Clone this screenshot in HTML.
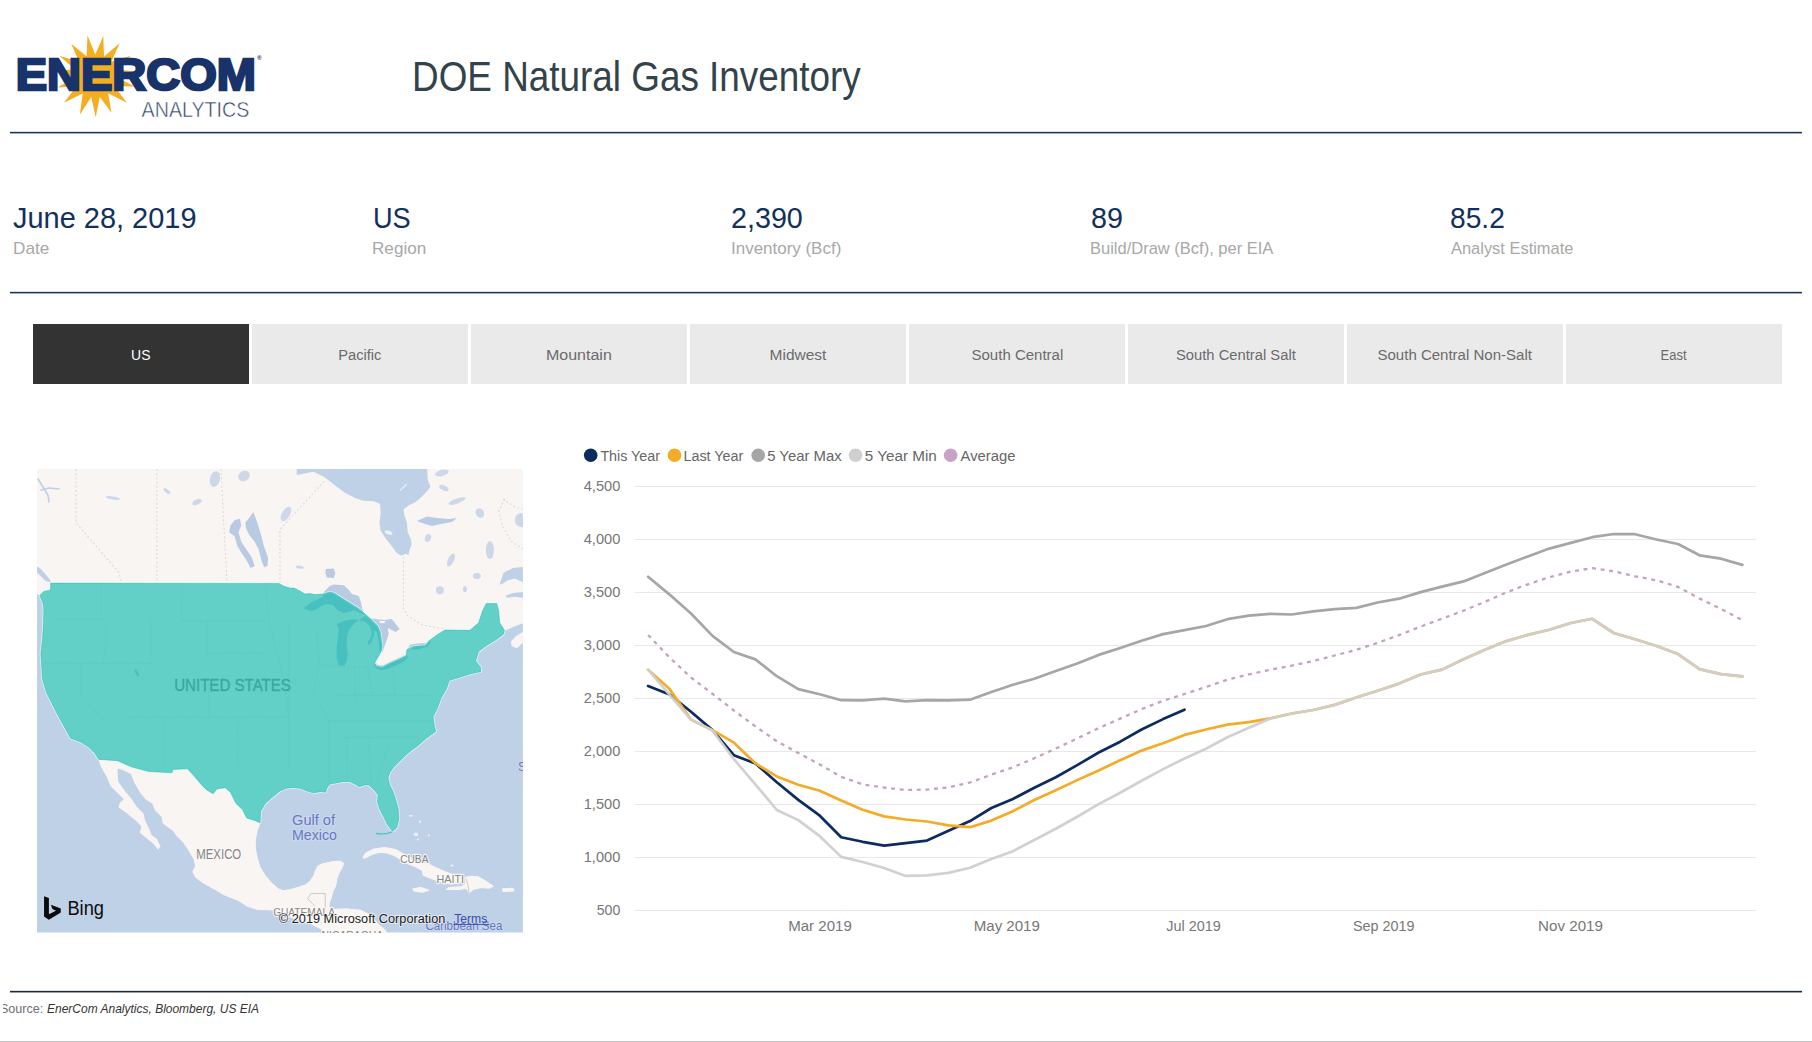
<!DOCTYPE html>
<html lang="en"><head><meta charset="utf-8"><title>DOE Natural Gas Inventory</title>
<style>
html,body{margin:0;padding:0;background:#fff;}
body{width:1812px;height:1042px;position:relative;overflow:hidden;font-family:"Liberation Sans",sans-serif;}
.abs{position:absolute;}
.hr{position:absolute;left:10px;width:1792px;height:2px;background:#1f3a68;}
#title{position:absolute;left:413px;top:52.3px;font-size:42.3px;line-height:50px;color:#33434b;white-space:nowrap;transform-origin:0 50%;}
.kv{position:absolute;top:200.1px;font-size:29px;line-height:36px;color:#12305c;white-space:nowrap;transform-origin:0 50%;}
.kl{position:absolute;top:237.7px;font-size:16.6px;line-height:22px;color:#a8a8a8;white-space:nowrap;transform-origin:0 50%;}
.tab{position:absolute;top:324px;width:216px;height:59.6px;background:#eaeaea;color:#6b6b6b;font-size:15.5px;line-height:61.6px;text-align:center;white-space:nowrap;}
.tab.sel{background:#333;color:#fff;}
#srcwrap{position:absolute;left:3.4px;top:995px;width:400px;height:30px;overflow:hidden;}
#src{position:absolute;left:-3.4px;top:4.6px;font-size:13px;line-height:18px;color:#707070;white-space:nowrap;}
#src .s1{position:absolute;left:0.4px;top:0;transform-origin:0 50%;transform:scaleX(0.965);}
#src .s2{position:absolute;left:47.4px;top:0;transform-origin:0 50%;transform:scaleX(0.922);}
#src i{color:#333;}
#bottom{position:absolute;left:0;top:1041px;width:1812px;height:1px;background:#c4c4c4;}
svg text{font-family:"Liberation Sans",sans-serif;}
</style></head><body>
<svg class="abs" style="left:0;top:0" width="300" height="130" viewBox="0 0 300 130">
<polygon fill="#f5ad22" points="87.5,35.6 95.3,54.5 103.3,36.0 104.0,56.4 119.7,43.2 111.3,61.8 130.7,55.7 115.6,69.4 136.5,71.5 116.6,77.6 135.0,86.4 114.3,85.9 126.9,102.7 108.1,93.2 111.5,112.8 99.8,97.0 95.7,117.6 91.3,97.1 79.8,114.7 82.7,93.5 64.0,102.7 76.4,86.3 57.8,87.4 73.8,77.8 55.5,71.0 74.8,69.2 59.2,55.7 79.1,61.8 71.2,43.7 86.6,56.3"/>
<text id="logo" x="15.7" y="90.2" font-size="44" font-weight="bold" fill="#17336a" stroke="#17336a" stroke-width="2.5" stroke-linejoin="miter" textLength="240.2" lengthAdjust="spacingAndGlyphs">ENERCOM</text>
<text x="257" y="60.0" font-size="6.2" font-weight="bold" fill="#17336a">®</text>
<text id="ana" x="141.6" y="116.6" font-size="22.6" fill="#33456b" textLength="107.8" lengthAdjust="spacingAndGlyphs" stroke="#fff" stroke-width="0.5">ANALYTICS</text>
</svg>
<div id="title" style="left:412.08px;transform:scaleX(0.8717)">DOE Natural Gas Inventory</div>
<div class="kv" id="kv0" style="left:13.41px;transform:scaleX(0.9981)">June 28, 2019</div><div class="kl" id="kl0" style="left:13.05px;transform:scaleX(1.0352)">Date</div>
<div class="kv" id="kv1" style="left:372.86px;transform:scaleX(0.9363)">US</div><div class="kl" id="kl1" style="left:372.05px;transform:scaleX(1.0313)">Region</div>
<div class="kv" id="kv2" style="left:731.47px;transform:scaleX(0.9893)">2,390</div><div class="kl" id="kl2" style="left:730.86px;transform:scaleX(1.0221)">Inventory (Bcf)</div>
<div class="kv" id="kv3" style="left:1091.17px;transform:scaleX(0.9907)">89</div><div class="kl" id="kl3" style="left:1090.30px;transform:scaleX(0.9940)">Build/Draw (Bcf), per EIA</div>
<div class="kv" id="kv4" style="left:1450.33px;transform:scaleX(0.9717)">85.2</div><div class="kl" id="kl4" style="left:1451.00px;transform:scaleX(0.9905)">Analyst Estimate</div>

<div class="tab sel" style="left:33px"><span style="display:inline-block;transform:scaleX(0.9000)">US</span></div>
<div class="tab" style="left:252px"><span style="display:inline-block;transform:scaleX(0.9455)">Pacific</span></div>
<div class="tab" style="left:471px"><span style="display:inline-block;transform:scaleX(1.0323)">Mountain</span></div>
<div class="tab" style="left:690px"><span style="display:inline-block;transform:scaleX(1.0000)">Midwest</span></div>
<div class="tab" style="left:909px"><span style="display:inline-block;transform:scaleX(0.9681)">South Central</span></div>
<div class="tab" style="left:1128px"><span style="display:inline-block;transform:scaleX(0.9520)">South Central Salt</span></div>
<div class="tab" style="left:1347px"><span style="display:inline-block;transform:scaleX(0.9686)">South Central Non-Salt</span></div>
<div class="tab" style="left:1566px"><span style="display:inline-block;transform:scaleX(0.8387)">East</span></div>

<svg class="abs" style="left:37px;top:469px" width="485.9" height="463.5" viewBox="0 0 486 463" preserveAspectRatio="none">
<rect x="0" y="0" width="486" height="463" fill="#bfd1e6"/>
<g fill="#f9f5f2" stroke="#f9f5f2" stroke-width="1" stroke-linejoin="round">
<polygon points="0.0,0.0 486.0,0.0 486.0,153.6 476.0,157.4 467.6,161.2 466.6,165.1 458.9,170.8 449.3,176.6 441.7,182.3 438.8,191.9 443.6,197.7 443.9,202.5 433.9,204.5 421.8,208.5 412.4,211.2 409.7,219.3 404.3,228.7 400.3,239.5 396.2,247.5 397.6,256.9 398.9,262.3 389.5,269.0 380.1,277.1 376.1,280.0 369.3,285.4 362.6,292.1 357.2,297.5 353.2,302.8 351.2,308.2 352.5,314.9 355.9,321.7 358.6,329.7 361.3,339.1 362.0,349.9 359.9,358.0 355.9,362.0 354.6,360.6 350.5,355.3 346.5,347.2 342.5,339.1 340.4,332.4 341.1,325.7 337.1,320.3 331.7,315.6 327.7,315.6 322.3,317.6 318.3,314.9 312.9,312.3 306.2,312.3 299.5,313.6 292.7,314.9 290.0,319.0 288.7,323.0 283.3,322.3 276.6,323.7 269.9,321.7 263.2,319.0 256.4,318.3 249.7,319.0 243.0,321.7 236.6,327.0 228.5,333.8 223.8,341.8 223.1,353.3 220.4,360.6 218.3,371.0 218.5,379.8 220.3,388.7 223.0,397.5 228.3,406.3 235.3,414.3 241.5,419.6 245.9,421.3 253.0,420.4 261.8,417.8 268.9,415.2 273.3,411.6 276.8,406.3 278.6,401.0 281.2,396.6 286.5,394.0 295.4,392.2 303.3,391.8 306.8,394.0 305.1,398.4 301.5,404.6 299.8,409.9 298.9,416.0 296.2,421.3 294.5,427.5 292.7,432.8 291.8,438.1 297.1,439.9 310.4,439.4 323.6,440.8 330.7,444.3 336.0,448.7 341.3,454.9 346.6,459.3 350.1,463.0 287.4,463.0 283.9,459.3 275.1,454.9 261.8,450.5 249.4,446.1 238.9,440.8 231.8,440.3 220.3,439.9 210.6,436.8 201.2,430.8 187.7,425.5 178.4,420.1 166.3,413.4 158.6,407.7 155.9,402.3 158.6,396.9 157.3,390.2 151.9,380.8 146.5,372.7 139.8,366.0 135.8,360.6 126.3,353.9 125.0,347.2 118.3,340.5 115.6,333.8 108.9,329.7 103.5,323.0 98.1,313.6 94.1,304.2 86.0,300.2 80.0,298.8 80.6,312.3 87.4,321.7 94.1,329.7 99.5,337.8 106.2,344.5 107.5,351.2 111.6,359.3 114.2,366.0 119.6,370.1 123.0,376.8 121.0,379.5 116.9,374.1 110.2,368.7 103.5,363.3 104.8,356.6 99.5,351.2 91.4,344.5 82.0,337.8 83.3,333.8 87.4,329.7 80.6,323.0 73.9,316.3 69.9,306.9 64.5,297.5 61.8,290.1 57.8,284.0 53.8,280.0 52.4,278.4 44.4,273.1 33.6,269.0 26.9,256.9 20.2,244.8 14.8,234.1 9.4,223.3 5.4,209.9 4.7,197.8 3.8,184.4 5.4,170.9 6.5,153.4 6.8,140.0 6.0,134.0 2.7,126.3 0.0,124.0"/>
<polygon points="326.3,387.5 329.0,383.5 337.1,379.5 347.8,378.1 358.6,380.1 366.7,384.8 377.4,391.6 390.9,394.2 398.9,398.3 408.3,402.3 417.7,405.8 425.5,407.6 426.5,411.5 420.0,414.0 411.4,414.3 404.0,412.2 398.7,410.6 392.0,408.3 386.1,405.6 385.5,401.0 377.4,396.9 370.7,394.2 364.0,390.2 357.2,386.2 350.5,383.5 342.5,382.8 335.7,384.8 330.4,387.5 327.0,388.9"/>
<polygon points="428.1,408.0 433.4,406.7 441.5,407.4 449.5,412.1 456.2,416.8 452.2,418.8 444.2,418.1 436.1,420.1 432.1,423.5 429.4,418.8 421.4,420.1 409.3,420.1 412.0,418.1 424.0,417.4 428.7,414.8"/>
<polygon points="375.8,419.4 383.8,418.1 391.9,420.8 385.2,422.8 377.1,421.5"/>
<polygon points="465.6,419.4 476.3,418.8 477.0,421.5 466.3,422.1"/>
<polygon points="474.3,172.7 480.0,167.0 486.0,163.2 486.0,172.7 480.0,178.5 475.3,176.6"/>
<ellipse cx="374.0" cy="346.5" rx="2.2" ry="0.9" stroke="none" opacity="0.8"/>
<ellipse cx="379.0" cy="365.0" rx="2.3" ry="1.8" stroke="none" opacity="0.8"/>
<ellipse cx="383.0" cy="352.0" rx="1.0" ry="1.5" stroke="none" opacity="0.8"/>
<ellipse cx="392.0" cy="366.0" rx="1.2" ry="1.0" stroke="none" opacity="0.8"/>
<ellipse cx="415.0" cy="396.0" rx="2.0" ry="1.0" stroke="none" opacity="0.8"/>
<ellipse cx="381.0" cy="370.0" rx="1.0" ry="1.0" stroke="none" opacity="0.8"/>
</g>
<g fill="#bfd1e6">
<polygon points="259.8,0.0 259.8,6.0 276.6,2.7 287.4,8.1 299.5,17.5 307.5,23.5 318.3,28.9 326.3,31.6 337.1,32.3 343.1,34.9 343.8,44.4 342.5,53.8 343.8,61.8 349.2,69.9 354.6,76.6 359.9,84.0 364.6,86.7 368.7,84.7 371.4,86.0 372.7,80.6 374.7,75.3 374.0,69.9 370.7,63.2 370.0,53.8 367.3,45.7 366.7,40.3 372.0,36.3 378.8,32.9 385.5,26.9 390.8,21.5 393.5,17.5 390.8,10.8 390.2,0.0"/>
<polygon points="462.8,115.2 466.6,103.6 476.2,98.8 486.0,97.9 486.0,113.2 478.1,109.4 470.5,111.3 464.7,115.2"/>
<polygon points="468.5,126.7 476.2,123.8 486.0,122.8 486.0,128.6 478.1,127.6 470.5,128.6"/>
<polygon points="0.0,97.5 4.0,100.0 13.4,111.0 13.4,113.6 8.0,111.5 0.0,103.5"/>
</g>
<g fill="#b9cbe3">
<polygon points="267.0,138.9 275.0,132.9 285.9,127.9 286.9,122.9 292.9,116.9 296.9,115.5 306.9,116.0 311.9,120.9 314.9,124.9 321.9,126.9 323.9,132.9 325.4,139.9 327.9,145.4 322.9,143.9 316.9,140.9 311.9,142.9 306.9,143.9 300.9,141.4 295.9,135.9 290.9,134.9 285.9,135.9 279.9,139.9 275.0,141.9 269.0,140.4"/>
<polygon points="288.9,100.0 296.9,99.5 298.4,104.0 296.9,109.0 289.9,108.5 288.4,104.0"/>
<polygon points="299.9,154.9 306.9,151.9 316.9,149.9 321.9,150.9 316.9,154.9 311.9,160.9 309.9,168.8 309.9,176.8 310.9,184.8 309.9,191.8 307.5,196.5 301.5,196.5 299.4,186.8 299.9,176.8 300.9,166.8 301.9,159.9"/>
<polygon points="321.9,150.9 328.8,146.9 332.8,148.9 338.8,149.9 346.8,150.9 354.8,149.9 358.8,154.9 362.8,159.9 358.8,162.9 354.8,160.9 350.8,158.9 351.8,164.9 349.8,170.8 347.3,177.8 345.8,182.8 342.8,183.8 342.3,176.8 341.3,169.8 339.8,162.9 337.8,160.9 336.8,166.9 334.8,172.8 331.8,175.8 330.8,172.8 333.8,168.8 334.8,162.9 332.8,156.9 328.8,152.9 324.9,151.9"/>
<polygon points="338.0,193.0 341.5,195.8 346.0,196.0 353.2,192.3 361.3,188.8 369.3,185.0 371.2,187.5 368.0,191.8 361.0,195.3 353.0,198.8 346.0,200.8 340.0,199.8 337.0,196.5"/>
<polygon points="372.8,175.6 380.0,174.3 389.7,173.5 392.9,170.3 394.0,172.5 391.0,177.3 383.0,179.8 375.0,180.3 371.5,178.6"/>
<polygon points="216.4,43.0 220.4,53.8 224.5,67.2 227.2,78.0 231.2,88.7 230.5,96.8 227.2,98.1 224.5,91.4 221.8,80.6 217.7,72.6 212.4,65.9 209.0,59.1 208.3,53.8 212.4,48.4"/>
<polygon points="197.6,51.1 203.0,49.7 204.3,56.5 201.6,63.2 204.3,72.6 209.7,80.6 215.0,88.7 217.7,96.8 213.7,98.8 209.7,91.4 204.3,83.3 200.3,76.6 197.6,67.2 192.2,63.2 193.5,56.5"/>
<polygon points="380.0,52.0 390.0,47.5 400.0,49.0 412.0,50.0 420.0,49.0 415.0,53.0 404.0,55.0 395.0,57.0 388.0,55.0"/>
<polygon points="97.0,200.5 99.0,200.0 101.0,203.0 102.5,206.5 100.5,207.0 98.5,204.0"/>
<ellipse cx="76.0" cy="29.0" rx="7.0" ry="1.6" transform="rotate(10 76.0 29.0)" opacity="0.7"/>
<ellipse cx="130.0" cy="22.0" rx="4.0" ry="1.8" transform="rotate(40 130.0 22.0)" opacity="0.7"/>
<ellipse cx="160.0" cy="33.0" rx="5.0" ry="2.5" transform="rotate(-25 160.0 33.0)" opacity="0.7"/>
<ellipse cx="178.0" cy="10.0" rx="5.0" ry="8.0" transform="rotate(15 178.0 10.0)" opacity="0.7"/>
<ellipse cx="207.0" cy="7.0" rx="6.0" ry="5.0" transform="rotate(-30 207.0 7.0)" opacity="0.7"/>
<ellipse cx="420.0" cy="32.0" rx="9.0" ry="2.5" transform="rotate(-20 420.0 32.0)" opacity="0.7"/>
<ellipse cx="443.0" cy="44.0" rx="4.0" ry="5.0" transform="rotate(-30 443.0 44.0)" opacity="0.7"/>
<ellipse cx="391.0" cy="69.0" rx="3.0" ry="4.0" transform="rotate(20 391.0 69.0)" opacity="0.7"/>
<ellipse cx="414.0" cy="91.0" rx="3.0" ry="7.0" transform="rotate(25 414.0 91.0)" opacity="0.7"/>
<ellipse cx="453.0" cy="81.0" rx="4.0" ry="9.0" transform="rotate(0 453.0 81.0)" opacity="0.7"/>
<ellipse cx="403.0" cy="121.0" rx="4.0" ry="4.0" transform="rotate(0 403.0 121.0)" opacity="0.7"/>
<ellipse cx="440.0" cy="107.0" rx="4.0" ry="3.0" transform="rotate(0 440.0 107.0)" opacity="0.7"/>
<ellipse cx="428.0" cy="120.0" rx="2.0" ry="3.0" transform="rotate(0 428.0 120.0)" opacity="0.7"/>
<ellipse cx="263.0" cy="98.0" rx="4.0" ry="1.5" transform="rotate(10 263.0 98.0)" opacity="0.7"/>
<ellipse cx="249.0" cy="45.0" rx="4.0" ry="8.0" transform="rotate(30 249.0 45.0)" opacity="0.7"/>
<ellipse cx="484.0" cy="51.0" rx="6.0" ry="7.0" transform="rotate(0 484.0 51.0)" opacity="0.7"/>
<ellipse cx="405.0" cy="4.0" rx="7.0" ry="3.0" transform="rotate(-15 405.0 4.0)" opacity="0.7"/>
<ellipse cx="407.0" cy="19.0" rx="5.0" ry="2.5" transform="rotate(25 407.0 19.0)" opacity="0.7"/>
</g>
<polygon fill="#f9f5f2" points="342.5,151.5 348.5,152.0 347.5,154.2 343.0,153.8"/>
<ellipse cx="351.7" cy="63.5" rx="4" ry="1.9" transform="rotate(20 351.7 63.5)" fill="#eef1f5"/>
<path d="M363.5,21 L369.5,15.5" stroke="#e4ebf3" stroke-width="1.4" stroke-linecap="round"/>
<g fill="none" stroke="#b9cbe3" stroke-width="1.6" stroke-linecap="round" opacity="0.9"><path d="M1,10 L6,18 L11,26 L12,33 M4,21 L12,19 L22,20"/></g>
<g fill="none" stroke="#dcd7d3" stroke-width="1" stroke-dasharray="2,2.2">
<path d="M39,0 L39,53.8 L82,103.5 L84.7,113.6"/>
<path d="M120,0 L120,113.6"/>
<path d="M184,0 L190,113.6"/>
<path d="M287.4,12.1 L243,60.5 L243,114"/>
<path d="M366.5,88 L366.5,140 L371,147 L386,156 L408,160"/>
<path d="M466,30 L478,38 L486,40 M468,30 L462,42 L466,58 L474,72 L486,80"/>
</g>
<g fill="none" stroke="#c9c4c0" stroke-width="0.9"><path d="M274,424 L288.3,424 L288.3,438 M274,424 L270.6,429.3 L277.7,436.3"/><path d="M432,423.5 L431,415 L429,409"/></g>
<polygon fill="none" stroke="#f2f8fb" stroke-opacity="0.75" stroke-width="2.2" stroke-linejoin="round" points="13.7,114.0 242.0,114.4 247.0,117.0 253.0,118.9 257.0,118.9 263.0,121.9 268.0,124.9 273.0,124.4 278.0,125.4 285.9,124.9 292.9,122.9 296.9,123.9 304.9,128.9 312.9,133.9 320.9,138.9 324.9,141.9 328.8,145.4 332.8,148.9 336.8,152.9 340.8,156.9 343.3,162.9 344.3,169.8 345.3,175.8 344.8,180.8 341.8,186.8 338.8,191.8 337.8,194.0 339.8,197.1 345.2,197.8 353.2,193.8 361.3,190.4 369.3,186.4 370.0,180.3 377.4,177.0 388.2,176.3 392.2,171.6 400.3,165.5 408.3,160.8 433.0,161.2 441.7,153.6 445.5,142.0 449.3,134.4 459.9,134.4 461.8,142.0 462.8,153.6 467.6,161.2 466.6,165.1 458.9,170.8 449.3,176.6 441.7,182.3 438.8,191.9 443.6,197.7 443.9,202.5 433.9,204.5 421.8,208.5 412.4,211.2 409.7,219.3 404.3,228.7 400.3,239.5 396.2,247.5 397.6,256.9 398.9,262.3 389.5,269.0 380.1,277.1 376.1,280.0 369.3,285.4 362.6,292.1 357.2,297.5 353.2,302.8 351.2,308.2 352.5,314.9 355.9,321.7 358.6,329.7 361.3,339.1 362.0,349.9 359.9,358.0 355.9,362.0 354.6,360.6 350.5,355.3 346.5,347.2 342.5,339.1 340.4,332.4 341.1,325.7 337.1,320.3 331.7,315.6 327.7,315.6 322.3,317.6 318.3,314.9 312.9,312.3 306.2,312.3 299.5,313.6 292.7,314.9 290.0,319.0 288.7,323.0 283.3,322.3 276.6,323.7 269.9,321.7 263.2,319.0 256.4,318.3 249.7,319.0 243.0,321.7 236.6,327.0 228.5,333.8 223.8,341.8 223.1,353.3 217.7,351.2 209.7,348.5 205.6,340.5 198.9,333.8 193.5,323.0 188.2,318.3 180.1,319.7 176.1,324.4 169.4,320.3 164.0,314.9 157.3,306.9 150.5,299.5 135.8,300.2 135.1,303.5 111.6,302.2 94.1,297.5 80.6,291.4 61.8,290.1 57.8,284.0 53.8,280.0 52.4,278.4 44.4,273.1 33.6,269.0 26.9,256.9 20.2,244.8 14.8,234.1 9.4,223.3 5.4,209.9 4.7,197.8 3.8,184.4 5.4,170.9 6.5,153.4 6.8,140.0 6.0,134.0 2.7,126.3 6.7,122.3 13.4,121.0"/>
<polygon fill="#01b8aa" fill-opacity="0.61" stroke="#01b8aa" stroke-opacity="0.5" stroke-width="0.8" stroke-linejoin="round" points="13.7,114.0 242.0,114.4 247.0,117.0 253.0,118.9 257.0,118.9 263.0,121.9 268.0,124.9 273.0,124.4 278.0,125.4 285.9,124.9 292.9,122.9 296.9,123.9 304.9,128.9 312.9,133.9 320.9,138.9 324.9,141.9 328.8,145.4 332.8,148.9 336.8,152.9 340.8,156.9 343.3,162.9 344.3,169.8 345.3,175.8 344.8,180.8 341.8,186.8 338.8,191.8 337.8,194.0 339.8,197.1 345.2,197.8 353.2,193.8 361.3,190.4 369.3,186.4 370.0,180.3 377.4,177.0 388.2,176.3 392.2,171.6 400.3,165.5 408.3,160.8 433.0,161.2 441.7,153.6 445.5,142.0 449.3,134.4 459.9,134.4 461.8,142.0 462.8,153.6 467.6,161.2 466.6,165.1 458.9,170.8 449.3,176.6 441.7,182.3 438.8,191.9 443.6,197.7 443.9,202.5 433.9,204.5 421.8,208.5 412.4,211.2 409.7,219.3 404.3,228.7 400.3,239.5 396.2,247.5 397.6,256.9 398.9,262.3 389.5,269.0 380.1,277.1 376.1,280.0 369.3,285.4 362.6,292.1 357.2,297.5 353.2,302.8 351.2,308.2 352.5,314.9 355.9,321.7 358.6,329.7 361.3,339.1 362.0,349.9 359.9,358.0 355.9,362.0 354.6,360.6 350.5,355.3 346.5,347.2 342.5,339.1 340.4,332.4 341.1,325.7 337.1,320.3 331.7,315.6 327.7,315.6 322.3,317.6 318.3,314.9 312.9,312.3 306.2,312.3 299.5,313.6 292.7,314.9 290.0,319.0 288.7,323.0 283.3,322.3 276.6,323.7 269.9,321.7 263.2,319.0 256.4,318.3 249.7,319.0 243.0,321.7 236.6,327.0 228.5,333.8 223.8,341.8 223.1,353.3 217.7,351.2 209.7,348.5 205.6,340.5 198.9,333.8 193.5,323.0 188.2,318.3 180.1,319.7 176.1,324.4 169.4,320.3 164.0,314.9 157.3,306.9 150.5,299.5 135.8,300.2 135.1,303.5 111.6,302.2 94.1,297.5 80.6,291.4 61.8,290.1 57.8,284.0 53.8,280.0 52.4,278.4 44.4,273.1 33.6,269.0 26.9,256.9 20.2,244.8 14.8,234.1 9.4,223.3 5.4,209.9 4.7,197.8 3.8,184.4 5.4,170.9 6.5,153.4 6.8,140.0 6.0,134.0 2.7,126.3 6.7,122.3 13.4,121.0"/>
<path d="M355.5,362.3 C351,364.3 345,365.2 339.3,364" fill="none" stroke="#3cc0ba" stroke-width="1.1"/>
<g fill="none" stroke="#4fbfb8" stroke-width="0.8" stroke-dasharray="1.5,2" opacity="0.55">
<path d="M7,194 L114,194 M114,194 L114,149 M64,114 L64,150 L70,160 L66,194 M20,150 L64,150 M145,114 L145,152 L228,152 M170,152 L170,184 L228,184 M91,248 L252,248 M127,248 L127,300 M172,215 L172,248 M201,248 L201,300 M252,152 L252,300 M44,194 L44,230 L90,270 M228,114 L232,152 L240,184 L248,215 L252,248 M172,215 L248,215"/>
<path d="M280,160 L282,196 L300,198 M282,196 L276,224 L292,250 L292,314 M300,198 L330,198 M318,198 L318,232 M330,198 L336,228 M292,252 L396,252 M356,198 L358,226 M300,226 L396,226 M308,268 L384,268 M310,268 L310,314 M332,268 L334,314 M352,272 L340,314"/>
</g>
<g font-family="'Liberation Sans',sans-serif">
<text x="137.2" y="221.6" font-size="16.8" fill="#3aa8a2" stroke="#3aa8a2" stroke-width="0.35" textLength="116.8" lengthAdjust="spacingAndGlyphs">UNITED STATES</text>
<text x="159.3" y="389.5" font-size="13.7" fill="#858585" stroke="#fbf9f7" stroke-width="2.4" stroke-opacity="0.85" paint-order="stroke" stroke-linejoin="round" textLength="45.0" lengthAdjust="spacingAndGlyphs">MEXICO</text>
<text x="363.3" y="393.6" font-size="10.8" fill="#858585" stroke="#fbf9f7" stroke-width="2.4" stroke-opacity="0.85" paint-order="stroke" stroke-linejoin="round" textLength="28.2" lengthAdjust="spacingAndGlyphs">CUBA</text>
<text x="399.6" y="413.1" font-size="10.8" fill="#858585" stroke="#fbf9f7" stroke-width="2.4" stroke-opacity="0.85" paint-order="stroke" stroke-linejoin="round" textLength="27.6" lengthAdjust="spacingAndGlyphs">HAITI</text>
<text x="236.2" y="446.9" font-size="10.0" fill="#858585" stroke="#fbf9f7" stroke-width="2.4" stroke-opacity="0.85" paint-order="stroke" stroke-linejoin="round" textLength="61.8" lengthAdjust="spacingAndGlyphs">GUATEMALA</text>
<text x="284.6" y="469.5" font-size="10.0" fill="#858585" stroke="#fbf9f7" stroke-width="2.4" stroke-opacity="0.85" paint-order="stroke" stroke-linejoin="round" textLength="61.7" lengthAdjust="spacingAndGlyphs">NICARAGUA</text>
<text x="255.1" y="355.3" font-size="14.4" fill="#6878c4" stroke="#cbd9ec" stroke-width="2.4" stroke-opacity="0.85" paint-order="stroke" stroke-linejoin="round" textLength="43.0" lengthAdjust="spacingAndGlyphs">Gulf of</text>
<text x="255.1" y="370.7" font-size="14.4" fill="#6878c4" stroke="#cbd9ec" stroke-width="2.4" stroke-opacity="0.85" paint-order="stroke" stroke-linejoin="round" textLength="45.0" lengthAdjust="spacingAndGlyphs">Mexico</text>
<text x="388.5" y="460.3" font-size="13.0" fill="#6878c4" stroke="#cbd9ec" stroke-width="2.4" stroke-opacity="0.85" paint-order="stroke" stroke-linejoin="round" textLength="77.0" lengthAdjust="spacingAndGlyphs">Caribbean Sea</text>
<text x="481.0" y="301.5" font-size="13.6" fill="#6878c4" stroke="#cbd9ec" stroke-width="2.4" stroke-opacity="0.85" paint-order="stroke" stroke-linejoin="round" textLength="8.0" lengthAdjust="spacingAndGlyphs">S</text>
<polygon fill="#0b0b0b" points="7.06,426.8 11.9,428.6 11.9,444.7 19,441.2 15.45,439.6 13.9,435.2 23.8,439 23.8,443 11.9,450.2 7.06,446.9"/>
<text x="30.4" y="445.7" font-size="20.5" fill="#0b0b0b" textLength="36.6" lengthAdjust="spacingAndGlyphs">Bing</text>
<text x="241.9" y="453.6" font-size="12.5" fill="#1a1a1a" stroke="#ffffff" stroke-opacity="0.55" stroke-width="2" paint-order="stroke" textLength="166.5" lengthAdjust="spacingAndGlyphs">© 2019 Microsoft Corporation</text>
<text x="417.3" y="453.6" font-size="12.5" fill="#3b4cab" textLength="33" lengthAdjust="spacingAndGlyphs">Terms</text>
<line x1="416.6" x2="452.6" y1="455" y2="455" stroke="#3b4cab" stroke-width="0.9"/>
</g>
</svg>
<svg class="abs" style="left:0;top:0;pointer-events:none" width="1812" height="1042" viewBox="0 0 1812 1042">
<rect x="10" y="131.85" width="1792" height="1.55" fill="#16315f"/><rect x="10" y="291.85" width="1792" height="1.55" fill="#16315f"/><rect x="10" y="990.85" width="1792" height="1.6" fill="#1a2a3e"/>
<g stroke="#e8e8e8" stroke-width="1" shape-rendering="crispEdges"><line x1="634.5" x2="1756" y1="486.5" y2="486.5"/><line x1="634.5" x2="1756" y1="539.5" y2="539.5"/><line x1="634.5" x2="1756" y1="592.5" y2="592.5"/><line x1="634.5" x2="1756" y1="645.5" y2="645.5"/><line x1="634.5" x2="1756" y1="698.5" y2="698.5"/><line x1="634.5" x2="1756" y1="751.5" y2="751.5"/><line x1="634.5" x2="1756" y1="804.5" y2="804.5"/><line x1="634.5" x2="1756" y1="857.5" y2="857.5"/><line x1="634.5" x2="1756" y1="910.5" y2="910.5"/></g>
<g font-size="15.4" fill="#777"><text x="583.7" y="491.2" textLength="36.6" lengthAdjust="spacingAndGlyphs">4,500</text><text x="583.7" y="544.2" textLength="36.6" lengthAdjust="spacingAndGlyphs">4,000</text><text x="583.7" y="597.2" textLength="36.6" lengthAdjust="spacingAndGlyphs">3,500</text><text x="583.7" y="650.2" textLength="36.6" lengthAdjust="spacingAndGlyphs">3,000</text><text x="583.7" y="703.2" textLength="36.6" lengthAdjust="spacingAndGlyphs">2,500</text><text x="583.7" y="756.2" textLength="36.6" lengthAdjust="spacingAndGlyphs">2,000</text><text x="583.7" y="809.2" textLength="36.6" lengthAdjust="spacingAndGlyphs">1,500</text><text x="583.7" y="862.2" textLength="36.6" lengthAdjust="spacingAndGlyphs">1,000</text><text x="596.7" y="915.2" textLength="23.6" lengthAdjust="spacingAndGlyphs">500</text><text x="788.2" y="931.2" textLength="63.6" lengthAdjust="spacingAndGlyphs">Mar 2019</text><text x="973.7" y="931.2" textLength="66.2" lengthAdjust="spacingAndGlyphs">May 2019</text><text x="1166.2" y="931.2" textLength="54.6" lengthAdjust="spacingAndGlyphs">Jul 2019</text><text x="1353.0" y="931.2" textLength="61.5" lengthAdjust="spacingAndGlyphs">Sep 2019</text><text x="1538.1" y="931.2" textLength="64.8" lengthAdjust="spacingAndGlyphs">Nov 2019</text></g>
<g font-size="15.4" fill="#666"><circle cx="590.7" cy="455.3" r="6.8" fill="#0c2b5e"/><text x="600.4" y="460.6" textLength="59.6" lengthAdjust="spacingAndGlyphs">This Year</text><circle cx="674.5" cy="455.3" r="6.8" fill="#f4ab27"/><text x="683.4" y="460.6" textLength="60.0" lengthAdjust="spacingAndGlyphs">Last Year</text><circle cx="758.2" cy="455.3" r="6.8" fill="#a6a6a6"/><text x="767.2" y="460.6" textLength="74.6" lengthAdjust="spacingAndGlyphs">5 Year Max</text><circle cx="855.5" cy="455.3" r="6.8" fill="#cfcfcf"/><text x="864.8" y="460.6" textLength="72.0" lengthAdjust="spacingAndGlyphs">5 Year Min</text><circle cx="950.6" cy="455.3" r="6.8" fill="#c9a3c6"/><text x="960.6" y="460.6" textLength="54.8" lengthAdjust="spacingAndGlyphs">Average</text></g>
<g fill="none" stroke-width="2.7" stroke-linejoin="round" stroke-linecap="round">
<polyline stroke="#0c2b5e" points="648.1,685.9 669.6,694.5 691.0,711.8 712.5,730.1 733.9,755.2 755.4,763.5 776.8,782.3 798.3,799.9 819.8,815.7 841.2,837.3 862.7,841.8 884.1,845.7 905.6,843.2 927.0,840.6 948.5,830.8 970.0,821.1 991.4,808.0 1012.9,799.0 1034.3,787.8 1055.8,777.2 1077.2,765.1 1098.7,752.5 1120.2,741.7 1141.6,729.5 1163.1,719.1 1184.5,709.7"/>
<polyline stroke="#f4ab27" points="648.1,669.7 669.6,689.1 691.0,719.6 712.5,730.1 733.9,742.7 755.4,763.3 776.8,776.4 798.3,784.7 819.8,790.8 841.2,800.6 862.7,809.7 884.1,816.4 905.6,819.5 927.0,821.5 948.5,825.3 970.0,827.2 991.4,820.6 1012.9,811.2 1034.3,800.0 1055.8,790.3 1077.2,780.1 1098.7,770.4 1120.2,760.2 1141.6,750.6 1163.1,743.2 1184.5,734.9 1206.0,729.5 1227.4,724.6 1248.9,722.1 1270.4,718.4 1291.8,713.5 1313.3,710.0 1334.7,704.9 1356.2,697.5 1377.6,690.8 1399.1,683.6 1420.6,674.5 1442.0,669.6 1463.5,659.2 1484.9,649.7 1506.4,641.1 1527.8,634.9 1549.3,629.8 1570.8,623.0 1592.2,618.8 1613.7,633.0 1635.1,639.3 1656.6,646.0 1678.0,654.1 1699.5,669.1 1721.0,674.1 1742.4,676.3"/>
<polyline stroke="#a6a6a6" points="648.1,576.8 669.6,594.6 691.0,613.5 712.5,635.9 733.9,652.0 755.4,659.4 776.8,676.2 798.3,689.1 819.8,694.2 841.2,700.2 862.7,700.3 884.1,698.7 905.6,701.4 927.0,700.1 948.5,700.4 970.0,699.7 991.4,692.0 1012.9,684.8 1034.3,678.8 1055.8,671.1 1077.2,663.5 1098.7,654.9 1120.2,648.0 1141.6,640.7 1163.1,634.1 1184.5,630.2 1206.0,626.0 1227.4,619.2 1248.9,615.6 1270.4,613.8 1291.8,614.5 1313.3,611.4 1334.7,609.1 1356.2,607.9 1377.6,602.5 1399.1,598.7 1420.6,592.1 1442.0,586.6 1463.5,581.4 1484.9,572.9 1506.4,564.5 1527.8,556.4 1549.3,548.6 1570.8,542.9 1592.2,537.2 1613.7,534.0 1635.1,534.2 1656.6,539.5 1678.0,544.0 1699.5,555.3 1721.0,558.7 1742.4,564.9"/>
<polyline stroke="#cfcfcf" stroke-opacity="0.96" points="648.1,669.7 669.6,694.8 691.0,719.6 712.5,730.5 733.9,759.2 755.4,784.3 776.8,810.0 798.3,820.1 819.8,836.2 841.2,856.9 862.7,862.0 884.1,868.0 905.6,875.9 927.0,875.4 948.5,872.9 970.0,867.7 991.4,859.0 1012.9,851.2 1034.3,840.0 1055.8,828.8 1077.2,816.7 1098.7,804.1 1120.2,792.8 1141.6,780.8 1163.1,769.1 1184.5,758.5 1206.0,748.7 1227.4,737.3 1248.9,727.8 1270.4,718.5 1291.8,713.5 1313.3,710.0 1334.7,704.9 1356.2,697.5 1377.6,690.8 1399.1,683.6 1420.6,674.5 1442.0,669.6 1463.5,659.2 1484.9,649.7 1506.4,641.1 1527.8,634.9 1549.3,629.8 1570.8,623.0 1592.2,618.8 1613.7,633.0 1635.1,639.3 1656.6,646.0 1678.0,654.1 1699.5,669.1 1721.0,674.1 1742.4,676.3"/>
<polyline stroke="#c4a2c0" stroke-width="2.3" stroke-dasharray="3.9,4.7" stroke-linecap="butt" points="648.1,635.0 669.6,657.5 691.0,677.5 712.5,693.8 733.9,710.5 755.4,726.4 776.8,741.2 798.3,753.0 819.8,764.4 841.2,776.8 862.7,784.4 884.1,787.5 905.6,790.0 927.0,789.6 948.5,787.4 970.0,782.5 991.4,774.7 1012.9,767.3 1034.3,758.3 1055.8,748.5 1077.2,738.5 1098.7,728.1 1120.2,718.6 1141.6,709.1 1163.1,700.8 1184.5,694.0 1206.0,687.0 1227.4,679.7 1248.9,674.4 1270.4,669.7 1291.8,665.7 1313.3,661.0 1334.7,655.5 1356.2,649.8 1377.6,642.9 1399.1,635.1 1420.6,626.6 1442.0,618.7 1463.5,610.7 1484.9,601.8 1506.4,592.4 1527.8,584.3 1549.3,577.2 1570.8,571.6 1592.2,568.1 1613.7,571.3 1635.1,576.3 1656.6,580.3 1678.0,586.9 1699.5,598.5 1721.0,608.9 1742.4,620.1"/>
</g>
</svg>
<div id="srcwrap"><div id="src"><span class="s1">Source:</span><i class="s2">EnerCom Analytics, Bloomberg, US EIA</i></div></div>
<div id="bottom"></div>
</body></html>
